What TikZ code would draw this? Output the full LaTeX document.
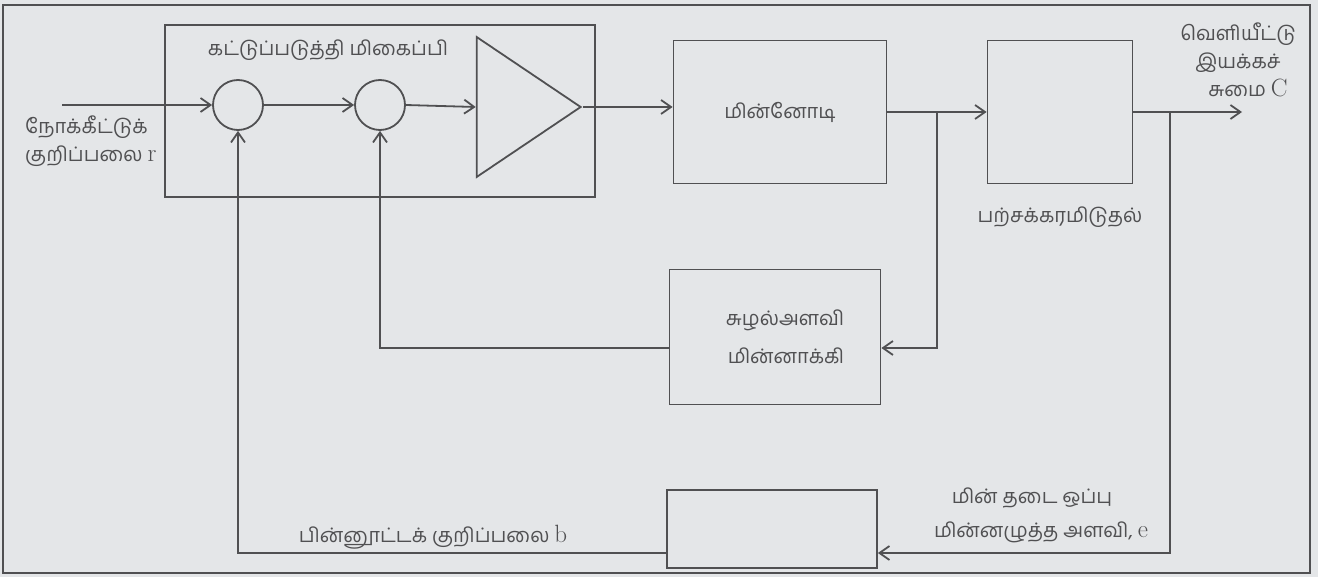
\documentclass[tikz,border=0pt]{standalone}
\usepackage{fontspec}
\newfontfamily\tamil[Script=Tamil]{Hind Madurai}
\usepackage{xcolor}
\definecolor{paper}{RGB}{228,230,232}
\definecolor{ink}{RGB}{80,80,82}
\usetikzlibrary{arrows.meta,shapes.geometric,calc}
\tikzset{
  blockbox/.style={draw=ink, line width=1.8pt, inner sep=0pt},
  sumnode/.style={draw=ink, circle, line width=1.8pt,
    minimum size=50pt, inner sep=0pt},
  lbl/.style={text=ink, font=\fontsize{20}{28}\selectfont\tamil,
    inner sep=0pt},
  arr/.style={draw=ink, -{Straight Barb[length=10pt,width=14pt,line width=1.8pt]},
    line width=1.8pt},
  wire/.style={draw=ink, line width=1.8pt},
}
\newcommand{\sym}[1]{{\fontsize{25}{28}\selectfont\rmfamily #1}}

\begin{document}
\begin{tikzpicture}[x=1pt, y=-1pt]
  \fill[paper] (0,0) rectangle (1318,577);
  \useasboundingbox (0,0) rectangle (1318,577);
  \draw[wire] (3,5) rectangle (1310,573);

  % controller amplifier
  \node[blockbox, minimum width=430, minimum height=172] (ctrl) at (380,111) {};
  \node[lbl] (ctrllbl) at (328,50) {கட்டுப்படுத்தி மிகைப்பி};
  \node[sumnode] (sum1) at (238,105) {};
  \node[sumnode] (sum2) at (380,105) {};
  \node[draw=ink, line width=1.8pt, isosceles triangle,
        isosceles triangle stretches, minimum width=140, minimum height=104,
        inner sep=0pt, anchor=apex] (amp) at (583,107) {};

  % motor, gears, tacho
  \node[blockbox, lbl, minimum width=213, minimum height=143] (motor) at (780,112) {மின்னோடி};
  \node[blockbox, minimum width=145, minimum height=143] (gear) at (1060,112) {};
  \node[lbl] (gearlbl) at (1060,217) {பற்சக்கரமிடுதல்};
  \node[blockbox, lbl, minimum width=211, minimum height=135, align=center]
    (tacho) at (775,337) {\hspace*{20pt}சுழல்அளவி\\[10pt]\hspace*{22pt}மின்னாக்கி};
  \node[blockbox, minimum width=210, minimum height=78] (pot) at (772,529) {};

  % labels
  \node[lbl, align=left, anchor=west] (reflbl) at (25,141)
    {நோக்கீட்டுக்\\குறிப்பலை \sym{r}};
  \node[lbl, align=center] (outlbl) at (1238,60)
    {வெளியீட்டு\\இயக்கச்\\\hspace*{20pt}சுமை \sym{C}};
  \node[lbl] (fblbl) at (433,537) {பின்னூட்டக் குறிப்பலை \sym{b}};
  \node[lbl, align=center] (potlbl) at (1032,515)
    {மின் தடை ஒப்பு\\[6pt]\hspace*{18pt}மின்னழுத்த அளவி, \sym{e}};

  % forward path
  \coordinate (in) at (62,105);
  \coordinate (out) at (1242,112);
  \draw[arr] (in) -- (sum1.west);
  \draw[arr] (sum1.east) -- (sum2.west);
  \draw[arr] (sum2.east) -- (amp.west);
  \draw[arr] (amp.apex) -- (amp.apex -| motor.west);
  \draw[arr] (motor.east) -- (gear.west);
  \draw[arr] (gear.east) -- (out);

  % feedback paths
  \coordinate (j1) at ($(motor.east)!0.5!(gear.west)$);
  \coordinate (j2) at (1170,112);
  \draw[arr] (j1) |- ([yshift=-11pt]tacho.east);
  \draw[arr] ([yshift=-11pt]tacho.west) -| (sum2.south);
  \draw[arr] (j2) |- ([yshift=-24pt]pot.east);
  \draw[arr] ([yshift=-24pt]pot.west) -| (sum1.south);
\end{tikzpicture}
\end{document}
